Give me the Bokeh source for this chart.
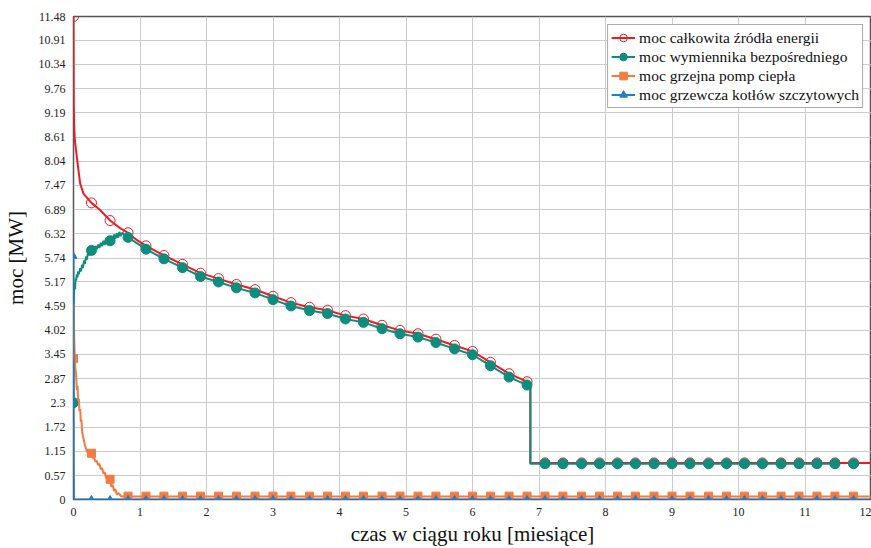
from bokeh.plotting import figure
from bokeh.models import FixedTicker, Range1d, Legend
from bokeh.embed import file_html
from bokeh.resources import INLINE

# ---------------- data ----------------
y_tick_labels = ["0", "0.57", "1.15", "1.72", "2.3", "2.87", "3.45", "4.02", "4.59", "5.17",
                 "5.74", "6.32", "6.89", "7.47", "8.04", "8.61", "9.19", "9.76", "10.34",
                 "10.91", "11.48"]
x_ticks = [0, 1, 2, 3, 4, 5, 6, 7, 8, 9, 10, 11, 12]

marker_t = [0.00, 0.27, 0.55, 0.82, 1.09, 1.36, 1.64, 1.91, 2.18, 2.45, 2.73, 3.00, 3.27,
            3.55, 3.82, 4.09, 4.36, 4.64, 4.91, 5.18, 5.45, 5.73, 6.00, 6.27, 6.55, 6.82,
            7.09, 7.36, 7.64, 7.91, 8.18, 8.45, 8.73, 9.00, 9.27, 9.55, 9.82, 10.09,
            10.36, 10.64, 10.91, 11.18, 11.45, 11.73]

total_mk = [11.48, 7.05, 6.63, 6.34, 6.03, 5.80, 5.59, 5.38, 5.25, 5.11, 4.99, 4.83, 4.68,
            4.57, 4.50, 4.37, 4.29, 4.14, 4.02, 3.94, 3.81, 3.66, 3.52, 3.26, 2.99, 2.80,
            0.87, 0.87, 0.87, 0.87, 0.87, 0.87, 0.87, 0.87, 0.87, 0.87, 0.87, 0.87,
            0.87, 0.87, 0.87, 0.87, 0.87, 0.87]

exch_mk = [2.30, 5.92, 6.15, 6.23, 5.95, 5.72, 5.51, 5.30, 5.17, 5.03, 4.91, 4.75, 4.60,
           4.49, 4.42, 4.29, 4.21, 4.06, 3.94, 3.86, 3.73, 3.58, 3.44, 3.18, 2.91, 2.72,
           0.85, 0.85, 0.85, 0.85, 0.85, 0.85, 0.85, 0.85, 0.85, 0.85, 0.85, 0.85,
           0.85, 0.85, 0.85, 0.85, 0.85, 0.85]

hp_mk = [3.35, 1.10, 0.48, 0.08, 0.08, 0.08, 0.08, 0.08, 0.08, 0.08, 0.08, 0.08, 0.08,
         0.08, 0.08, 0.08, 0.08, 0.08, 0.08, 0.08, 0.08, 0.08, 0.08, 0.08, 0.08, 0.08,
         0.08, 0.08, 0.08, 0.08, 0.08, 0.08, 0.08, 0.08, 0.08, 0.08, 0.08, 0.08,
         0.08, 0.08, 0.08, 0.08, 0.08, 0.08]

boiler_mk = [5.78, 0.0, 0.0, 0.0, 0.0, 0.0, 0.0, 0.0, 0.0, 0.0, 0.0, 0.0, 0.0,
             0.0, 0.0, 0.0, 0.0, 0.0, 0.0, 0.0, 0.0, 0.0, 0.0, 0.0, 0.0, 0.0,
             0.0, 0.0, 0.0, 0.0, 0.0, 0.0, 0.0, 0.0, 0.0, 0.0, 0.0, 0.0,
             0.0, 0.0, 0.0, 0.0, 0.0, 0.0]

# continuous lines
total_t = [0.0, 0.004, 0.01, 0.02, 0.05, 0.10, 0.15, 0.27, 0.40, 0.55, 0.70, 0.82, 0.95,
           1.09, 1.36, 1.64, 1.91, 2.18, 2.45, 2.73, 3.00, 3.27, 3.55, 3.82, 4.09, 4.36,
           4.64, 4.91, 5.18, 5.45, 5.73, 6.00, 6.27, 6.55, 6.82, 6.87, 6.87, 12.0]
total_v = [11.48, 9.41, 8.90, 8.54, 8.14, 7.51, 7.27, 7.05, 6.88, 6.63, 6.45, 6.34, 6.17,
           6.03, 5.80, 5.59, 5.38, 5.25, 5.11, 4.99, 4.83, 4.68, 4.57, 4.50, 4.37, 4.29,
           4.14, 4.02, 3.94, 3.81, 3.66, 3.52, 3.26, 2.99, 2.80, 2.77, 0.87, 0.87]

exch_t = [0.0, 0.004, 0.01, 0.02, 0.025, 0.03, 0.04, 0.05, 0.06, 0.07, 0.08, 0.10, 0.11,
          0.13, 0.14, 0.16, 0.17, 0.19, 0.20, 0.22, 0.23, 0.25, 0.27, 0.29, 0.31, 0.33,
          0.35, 0.37, 0.39, 0.41, 0.43, 0.45, 0.47, 0.49, 0.51, 0.53, 0.55, 0.57, 0.59,
          0.61, 0.63, 0.65, 0.67, 0.69, 0.71, 0.73, 0.76, 0.82,
          1.09, 1.36, 1.64, 1.91, 2.18, 2.45, 2.73, 3.00, 3.27, 3.55, 3.82, 4.09, 4.36,
          4.64, 4.91, 5.18, 5.45, 5.73, 6.00, 6.27, 6.55, 6.82, 6.87, 6.87, 11.45]
exch_v = [2.30, 4.75, 4.95, 5.15, 5.00, 5.25, 5.20, 5.35, 5.28, 5.42, 5.35, 5.50, 5.42,
          5.58, 5.50, 5.68, 5.60, 5.78, 5.70, 5.88, 5.80, 5.92, 5.88, 5.96, 5.90, 6.02,
          5.95, 6.06, 5.98, 6.10, 6.02, 6.15, 6.05, 6.20, 6.10, 6.22, 6.12, 6.26, 6.15,
          6.30, 6.20, 6.33, 6.22, 6.36, 6.26, 6.34, 6.30, 6.23,
          5.95, 5.72, 5.51, 5.30, 5.17, 5.03, 4.91, 4.75, 4.60, 4.49, 4.42, 4.29, 4.21,
          4.06, 3.94, 3.86, 3.73, 3.58, 3.44, 3.18, 2.91, 2.72, 2.68, 0.85, 0.85]

hp_t = [0.0, 0.004, 0.01, 0.02, 0.03, 0.04, 0.05, 0.06, 0.07, 0.08, 0.09, 0.10, 0.11,
        0.12, 0.13, 0.15, 0.17, 0.19, 0.21, 0.23, 0.25, 0.27, 0.29, 0.31, 0.33, 0.35,
        0.37, 0.39, 0.41, 0.43, 0.45, 0.47, 0.49, 0.51, 0.53, 0.55, 0.57, 0.59, 0.61,
        0.63, 0.65, 0.68, 0.72, 0.80, 12.0]
hp_v = [3.40, 4.65, 3.90, 3.35, 3.10, 2.95, 2.60, 2.70, 2.35, 2.40, 2.10, 2.15, 1.85,
        1.90, 1.60, 1.45, 1.30, 1.20, 1.12, 1.15, 1.10, 1.08, 0.98, 1.00, 0.90, 0.92,
        0.82, 0.85, 0.72, 0.75, 0.62, 0.65, 0.50, 0.55, 0.40, 0.45, 0.30, 0.35, 0.20,
        0.25, 0.12, 0.15, 0.07, 0.07, 0.07]

boiler_t = [0.0, 0.003, 0.006, 12.0]
boiler_v = [5.78, 0.80, 0.0, 0.0]

labels = ["moc całkowita źródła energii",
          "moc wymiennika bezpośredniego",
          "moc grzejna pomp ciepła",
          "moc grzewcza kotłów szczytowych"]
x_title = "czas w ciągu roku [miesiące]"
y_title = "moc [MW]"

RED = "#ec1c24"
GREEN = "#0e8c7c"
ORANGE = "#f37b41"
BLUE = "#1c7fcf"
SERIF = "Liberation Serif"

# ---------------- figure ----------------
p = figure(width=871, height=548, output_backend="svg", toolbar_location=None,
           x_range=Range1d(0, 12), y_range=Range1d(0, 11.48),
           min_border_left=73, min_border_right=0, min_border_top=16, min_border_bottom=48)

p.background_fill_color = "white"
p.border_fill_color = "white"
p.outline_line_color = "#555555"
p.outline_line_width = 1.5

y_ticks = [float(s) for s in y_tick_labels]
p.yaxis.ticker = FixedTicker(ticks=y_ticks)
p.yaxis.major_label_overrides = {t: s for t, s in zip(y_ticks, y_tick_labels)}
p.xaxis.ticker = FixedTicker(ticks=x_ticks)

for ax in (p.xaxis, p.yaxis):
    ax.axis_line_color = None
    ax.major_tick_line_color = None
    ax.minor_tick_line_color = None
    ax.major_label_text_font = SERIF
    ax.major_label_text_font_size = "12px"
    ax.major_label_text_color = "#222222"
    ax.major_label_standoff = 2
    ax.axis_label_text_font = SERIF
    ax.axis_label_text_font_size = "21px"
    ax.axis_label_text_font_style = "normal"
    ax.axis_label_text_color = "#111111"

p.xaxis.axis_label = x_title
p.yaxis.axis_label = y_title
p.xaxis.axis_label_standoff = 3
p.yaxis.axis_label_standoff = 8

p.xgrid.ticker = FixedTicker(ticks=x_ticks)
p.ygrid.ticker = FixedTicker(ticks=y_ticks)
for g in (p.xgrid, p.ygrid):
    g.grid_line_color = "#cccccc"
    g.grid_line_width = 1

r1 = p.line(total_t, total_v, line_color=RED, line_width=2)
m1 = p.scatter(marker_t, total_mk, marker="circle", size=10, line_color=RED,
               fill_color=None, line_width=1)

r2 = p.line(exch_t, exch_v, line_color=GREEN, line_width=2)
m2 = p.scatter(marker_t, exch_mk, marker="circle", size=10, line_color=GREEN,
               fill_color=GREEN)

r3 = p.line(hp_t, hp_v, line_color=ORANGE, line_width=2)
m3 = p.scatter(marker_t, hp_mk, marker="square", size=8, line_color=ORANGE,
               fill_color=ORANGE)

r4 = p.line(boiler_t, boiler_v, line_color=BLUE, line_width=2)
m4 = p.scatter(marker_t, boiler_mk, marker="triangle", size=7, line_color=BLUE,
               fill_color=BLUE)

legend = Legend(items=[(labels[0], [r1, m1]), (labels[1], [r2, m2]),
                       (labels[2], [r3, m3]), (labels[3], [r4, m4])],
                location="top_right")
legend.label_text_font = SERIF
legend.label_text_font_size = "15.5px"
legend.label_text_color = "#111111"
legend.label_height = 19
legend.glyph_height = 19
legend.glyph_width = 24
legend.spacing = 0
legend.padding = 3
legend.margin = 8
legend.label_standoff = 4
legend.border_line_color = "#555555"
legend.border_line_width = 1.5
legend.background_fill_alpha = 1.0
p.add_layout(legend)

open("out.html", "w").write(file_html(p, INLINE))
